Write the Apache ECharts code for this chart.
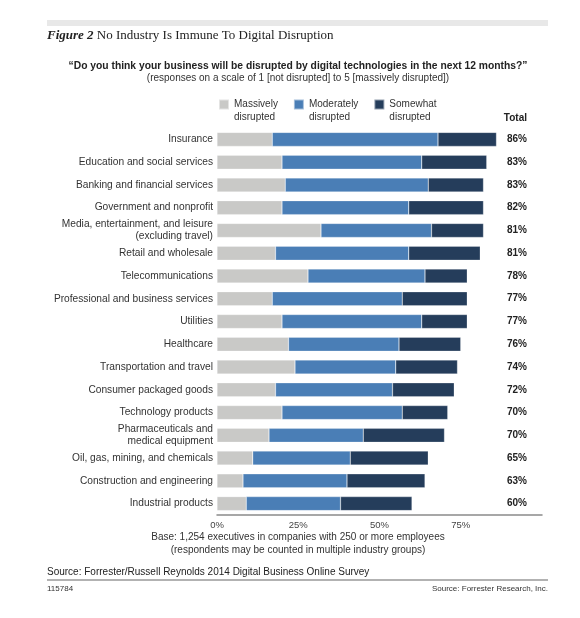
<!DOCTYPE html>
<html lang="en">
<head>
    <meta charset="UTF-8">
    <title>No Industry Is Immune To Digital Disruption</title>
    <script type="text/javascript" src="https://cdn.jsdelivr.net/npm/echarts@6/dist/echarts.min.js"></script>
    <style>
        html, body { margin: 0; padding: 0; background: #fff; }
        #main { width: 580px; height: 618px; }
    </style>
</head>
<body>
<div id="main"></div>
<script>
    // industries, top to bottom
    var industries = [
        'Insurance',
        'Education and social services',
        'Banking and financial services',
        'Government and nonprofit',
        'Media, entertainment, and leisure\n(excluding travel)',
        'Retail and wholesale',
        'Telecommunications',
        'Professional and business services',
        'Utilities',
        'Healthcare',
        'Transportation and travel',
        'Consumer packaged goods',
        'Technology products',
        'Pharmaceuticals and\nmedical equipment',
        'Oil, gas, mining, and chemicals',
        'Construction and engineering',
        'Industrial products'
    ];
    // % of respondents
    var massively  = [17, 20, 21, 20, 32, 18, 28, 17, 20, 22, 24, 18, 20, 16, 11, 8, 9];
    var moderately = [51, 43, 44, 39, 34, 41, 36, 40, 43, 34, 31, 36, 37, 29, 30, 32, 29];
    var somewhat   = [18, 20, 17, 23, 16, 22, 13, 20, 14, 19, 19, 19, 14, 25, 24, 24, 22];
    var totals     = [86, 83, 83, 82, 81, 81, 78, 77, 77, 76, 74, 72, 70, 70, 65, 63, 60];
    var xTicks     = [0, 25, 50, 75];

    var SANS = '"Liberation Sans", Arial, sans-serif';
    var SERIF = '"Liberation Serif", "Times New Roman", serif';

    var chart = echarts.init(document.getElementById('main'));

    function seg(name, data, color) {
        return {
            name: name,
            type: 'bar',
            stack: 'total',
            data: data,
            barWidth: 14,
            itemStyle: { color: color, borderColor: 'rgba(255,255,255,0.5)', borderWidth: 0.5 },
            emphasis: { disabled: true }
        };
    }

    var option = {
        animation: false,
        color: ['#c9c9c7', '#4a7eb6', '#253d5b'],
        legend: {
            left: 218,
            top: 98,
            padding: 0,
            itemWidth: 10,
            itemHeight: 23,
            itemGap: 15,
            // square sits level with the first text line
            icon: 'path://M0,0H10V10H0Z M0,23L0.01,23',
            selectedMode: false,
            textStyle: { fontFamily: SANS, fontSize: 10, color: '#333', lineHeight: 13 }
        },
        grid: {
            left: 217,
            right: 38,
            top: 128,
            bottom: 103
        },
        xAxis: {
            type: 'value',
            min: 0,
            max: 100,
            interval: 25,
            splitLine: { show: false },
            axisTick: { show: false },
            axisLine: { show: true, lineStyle: { color: '#8a8a8a', width: 1.5 } },
            axisLabel: {
                margin: 5,
                fontFamily: SANS,
                fontSize: 9.5,
                color: '#444',
                formatter: function (v) {
                    return xTicks.indexOf(v) >= 0 ? v + '%' : '';
                }
            }
        },
        yAxis: [
            {
                type: 'category',
                inverse: true,
                data: industries,
                axisLine: { show: false },
                axisTick: { show: false },
                axisLabel: {
                    margin: 4,
                    fontFamily: SANS,
                    fontSize: 10.2,
                    color: '#333',
                    lineHeight: 12
                }
            },
            {
                type: 'category',
                inverse: true,
                position: 'right',
                offset: -15,
                data: totals,
                axisLine: { show: false },
                axisTick: { show: false },
                axisLabel: {
                    margin: 0,
                    align: 'right',
                    fontFamily: SANS,
                    fontSize: 10,
                    fontWeight: 'bold',
                    color: '#222',
                    formatter: '{value}%'
                }
            }
        ],
        series: [
            seg('Massively\ndisrupted', massively, '#c9c9c7'),
            seg('Moderately\ndisrupted', moderately, '#4a7eb6'),
            seg('Somewhat\ndisrupted', somewhat, '#253d5b')
        ],
        graphic: [
            { type: 'rect', shape: { x: 47, y: 20, width: 501, height: 6 }, style: { fill: '#e8e8e8' } },
            {
                type: 'text', x: 47, y: 36,
                style: {
                    text: '{a|Figure 2} No Industry Is Immune To Digital Disruption',
                    font: '13px ' + SERIF, fill: '#222', verticalAlign: 'middle',
                    rich: { a: { font: 'italic bold 13px ' + SERIF, fill: '#222' } }
                }
            },
            {
                type: 'text', x: 298, y: 66,
                style: {
                    text: '\u201cDo you think your business will be disrupted by digital technologies in the next 12 months?\u201d',
                    font: 'bold 10.3px ' + SANS, fill: '#222', align: 'center', verticalAlign: 'middle'
                }
            },
            {
                type: 'text', x: 298, y: 78,
                style: {
                    text: '(responses on a scale of 1 [not disrupted] to 5 [massively disrupted])',
                    font: '10px ' + SANS, fill: '#333', align: 'center', verticalAlign: 'middle'
                }
            },
            {
                type: 'text', x: 527, y: 118,
                style: { text: 'Total', font: 'bold 10px ' + SANS, fill: '#222', align: 'right', verticalAlign: 'middle' }
            },
            {
                type: 'text', x: 298, y: 537,
                style: {
                    text: 'Base: 1,254 executives in companies with 250 or more employees',
                    font: '10px ' + SANS, fill: '#333', align: 'center', verticalAlign: 'middle'
                }
            },
            {
                type: 'text', x: 298, y: 550,
                style: {
                    text: '(respondents may be counted in multiple industry groups)',
                    font: '10px ' + SANS, fill: '#333', align: 'center', verticalAlign: 'middle'
                }
            },
            {
                type: 'text', x: 47, y: 572,
                style: {
                    text: 'Source: Forrester/Russell Reynolds 2014 Digital Business Online Survey',
                    font: '10px ' + SANS, fill: '#222', verticalAlign: 'middle'
                }
            },
            { type: 'line', shape: { x1: 47, y1: 580, x2: 548, y2: 580 }, style: { stroke: '#999', lineWidth: 1.5 } },
            {
                type: 'text', x: 47, y: 589,
                style: { text: '115784', font: '8px ' + SANS, fill: '#333', verticalAlign: 'middle' }
            },
            {
                type: 'text', x: 548, y: 589,
                style: { text: 'Source: Forrester Research, Inc.', font: '8px ' + SANS, fill: '#333', align: 'right', verticalAlign: 'middle' }
            }
        ]
    };
    chart.setOption(option);
</script>
</body>
</html>
